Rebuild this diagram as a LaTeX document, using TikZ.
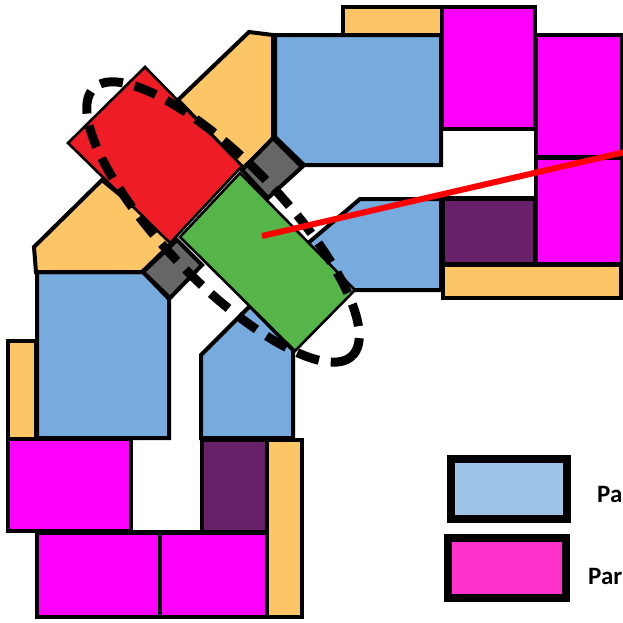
\documentclass[tikz,border=0pt]{standalone}
\usepackage{fontspec}
\setmainfont{Carlito}
\tikzset{
  part/.style={draw=black,line width=4pt,line join=miter,miter limit=3},
  bluepart/.style={part,fill=blueA},
  orangepart/.style={part,fill=orangeA},
  magpart/.style={part,fill=magentaA},
  purplepart/.style={part,fill=purpleA},
  graypart/.style={part,fill=grayA},
  legendbox/.style={draw=black,line width=8pt},
  legendtext/.style={inner sep=0pt,anchor=west,font=\fontsize{25}{25}\selectfont\bfseries}
}
\definecolor{blueA}{HTML}{78ABDD}
\definecolor{orangeA}{HTML}{FCC566}
\definecolor{magentaA}{HTML}{FF00FF}
\definecolor{purpleA}{HTML}{68206A}
\definecolor{grayA}{HTML}{666666}
\definecolor{redA}{HTML}{EE1C25}
\definecolor{greenA}{HTML}{55B548}
\definecolor{blueB}{HTML}{9DC3E6}
\definecolor{pinkB}{HTML}{FF33CC}
\begin{document}
\begin{tikzpicture}[x=1pt,y=-1pt]
\useasboundingbox (0,0) rectangle (623,622);
\clip (0,0) rectangle (623,622);
% upper arm
\draw[orangepart] (343,7) rectangle (442,35);
\draw[magpart] (442,7) rectangle (535,129);
\draw[magpart] (536,35) rectangle (622,157);
\draw[magpart] (536,158) rectangle (622,264);
\draw[purplepart] (443,198) rectangle (535,264);
\draw[orangepart] (443,265) rectangle (621,298);
\draw[bluepart] (275,35) -- (441,35) -- (441,165) -- (304,165) -- (275,137) -- cycle;
\draw[bluepart] (360,199) -- (441,199) -- (441,290) -- (352,290) -- (300,250) -- cycle;
\draw[draw=black,line width=4pt] (441,199) -- (535,199);
% lower arm
\draw[orangepart] (8,341) rectangle (36,439);
\draw[bluepart] (37,272) -- (143,272) -- (169,299) -- (169,438) -- (37,438) -- cycle;
\draw[bluepart] (201,355) -- (250,306) -- (293,350) -- (293,438) -- (201,438) -- cycle;
\draw[magpart] (8,439) rectangle (131,531);
\draw[purplepart] (202,440) rectangle (267,532);
\draw[orangepart] (267,440) rectangle (302,617);
\draw[magpart] (37,533) rectangle (160,617);
\draw[magpart] (160,533) rectangle (267,617);
\draw[draw=black,line width=4pt] (131,532) -- (202,532);
% centre
\draw[orangepart] (249,32) -- (273,35) -- (273,140) -- (243,168) -- (178,100) -- cycle;
\draw[orangepart] (34,247) -- (102,180) -- (175,240) -- (142,272) -- (36,272) -- cycle;
\draw[graypart] (273,138) -- (302,167) -- (268,198) -- (242,170) -- cycle;
\draw[graypart] (177,240) -- (202,265) -- (170,298) -- (143,272) -- cycle;
\draw[draw=black,line width=2.6pt,fill=redA,line join=miter] (145,67) -- (68,143) -- (170,243) -- (242,166) -- cycle;
\draw[draw=black,line width=2.6pt,fill=greenA,line join=miter] (240,173) -- (355,290) -- (295,351) -- (180,237) -- cycle;
\draw[black,line width=9pt,dash pattern=on 23pt off 12pt] (223,222) ellipse[x radius=186,y radius=60,rotate=-46];
\draw[red,line width=6pt] (262,236) -- (625,152);
% legend
\draw[legendbox,fill=blueB] (451,459) rectangle (567,519);
\draw[legendbox,fill=pinkB] (448,538) rectangle (566,598);
\node[legendtext] (labelA) at (597,494) {Pa};
\node[legendtext] (labelB) at (588,576) {Par};
\end{tikzpicture}
\end{document}
